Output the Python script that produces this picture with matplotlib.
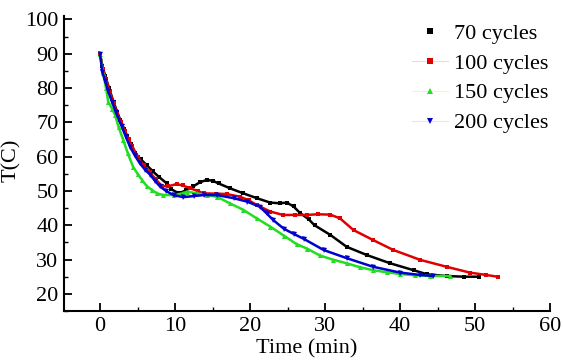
import matplotlib
matplotlib.use("Agg")
import matplotlib.pyplot as plt
from matplotlib.ticker import MultipleLocator

# ---- data ----
t70 = [0, 0.3, 0.7, 1.2, 1.8, 2.3, 2.7, 3.2, 3.6, 4.1, 4.7, 5.4, 6.2, 7.0, 7.8, 8.9, 9.5,
       10.5, 11.5, 12.4, 13.3, 14.2, 15.0, 15.8, 17.3, 19.1, 20.9, 22.7, 24.0, 24.9, 25.8,
       26.7, 27.8, 28.6, 30.7, 32.9, 35.6, 38.7, 41.8, 43.6, 46.2, 48.5, 50.5]
T70 = [90, 86.5, 83.5, 80, 76, 73, 70.7, 68.2, 66, 63.8, 61, 59.3, 57.6, 55.8, 54.2, 52.2, 50.5,
       49.3, 50.2, 51.3, 52.5, 53.2, 53, 52.2, 50.8, 49.3, 47.9, 46.6, 46.4, 46.6, 45.5,
       43.5, 41.8, 40, 37.2, 33.7, 31.3, 28.9, 26.9, 25.7, 25.2, 25, 25]

t100 = [0, 0.4, 0.8, 1.3, 1.8, 2.3, 2.8, 3.3, 3.8, 4.3, 5.0, 5.8, 6.6, 7.4, 8.2, 9.0, 10.2,
        11.0, 12.0, 13.0, 13.8, 15.5, 16.9, 18.7, 19.8, 20.9, 22.7, 24.4, 26, 27.6, 29, 30.7,
        32.0, 33.8, 36.4, 39.1, 42.7, 46.2, 49.3, 51.5, 53.0]
T100 = [90, 85.5, 82.5, 79, 75.5, 72.5, 70, 67.5, 65, 63, 60, 57.5, 55.5, 53.5, 51.5, 51.3, 52,
        51.6, 50.8, 50, 49.3, 49.2, 49.1, 48.3, 47.3, 45.9, 44, 43, 43, 43, 43.2, 43.1,
        42, 38.6, 35.7, 32.8, 29.9, 27.9, 26.2, 25.5, 25.0]

t150 = [0, 0.4, 0.8, 1.1, 1.6, 2.0, 2.5, 3.1, 3.7, 4.4, 5.0, 5.6, 6.2, 6.9, 7.6, 8.4, 9.8,
        11.0, 11.6, 12.9, 14.2, 15.6, 17.3, 19.1, 20.9, 22.7, 24.5, 26.2, 27.6, 29.3, 31,
        32.9, 34.6, 36.4, 38.2, 40, 42, 44, 46.7]
T150 = [90, 84.5, 80, 76, 74, 72.2, 68.5, 64.9, 61, 57.1, 55, 53.2, 51.5, 50.3, 49.3, 48.8, 48.8,
        49.3, 49.8, 49.3, 48.8, 48.3, 46.4, 44.5, 42, 39.6, 37, 34.5, 33.2, 31.2, 30,
        28.9, 27.8, 26.9, 26.3, 25.8, 25.4, 25.2, 25.2]

t200 = [0, 0.3, 0.7, 1.1, 1.6, 2.1, 2.9, 3.4, 4.0, 4.6, 5.3, 6.0, 6.7, 7.3, 8.0, 8.8, 9.8,
        11.1, 12.5, 13.8, 15.6, 17.8, 19.6, 21.3, 22.2, 23.1, 24.5, 25.8, 27.2, 29.8, 32.9,
        36.4, 40, 42.7, 44.4]
T200 = [90, 84.8, 82, 79, 76, 73, 68.8, 66, 62.9, 60.5, 58.1, 56.2, 54.7, 53, 51.3, 50, 48.8,
        48.2, 48.5, 48.8, 48.8, 47.9, 46.9, 45.4, 43.5, 41.5, 39, 37.5, 36, 32.8, 30.4,
        27.9, 26.2, 25.5, 25.2]

labels = ["70 cycles", "100 cycles", "150 cycles", "200 cycles"]
xticks = [0, 10, 20, 30, 40, 50, 60]
yticks = [20, 30, 40, 50, 60, 70, 80, 90, 100]

plt.rcParams['font.family'] = ['Liberation Serif', 'DejaVu Serif']

fig = plt.figure(figsize=(5.63, 3.6), dpi=100)
ax = fig.add_axes([64 / 563, 49 / 360, (550 - 64) / 563, (311 - 16) / 360])

series = [
    (t70, T70, "black", "s", 3.4),
    (t100, T100, "#e00000", "s", 3.0),
    (t150, T150, "#22dd22", "^", 3.6),
    (t200, T200, "#0000cc", "v", 3.6),
]
marker_colors = ["black", "#e00000", "#22dd22", "#0000cc"]
legend_line_colors = ["white", "#f4d8d8", "#eef4e0", "#e6e6f0"]
handles = []
for (t, T, c, m, ms), lab, lc in zip(series, labels, legend_line_colors):
    ax.plot(t, T, color=c, marker=m, markersize=ms, linewidth=1.8,
            markeredgewidth=0)
    h, = ax.plot([], [], color=lc, marker=m, markersize=5, linestyle="-",
                 linewidth=0.8, markerfacecolor=c, markeredgewidth=0, label=lab)
    handles.append(h)

ax.set_xlim(-4.8, 60)
ax.set_ylim(15, 101)
ax.set_xticks(xticks)
ax.set_yticks(yticks)
ax.xaxis.set_minor_locator(MultipleLocator(5))
ax.yaxis.set_minor_locator(MultipleLocator(5))
ax.tick_params(which="major", direction="in", length=6, width=1.3, labelsize=16, pad=4)
ax.tick_params(which="minor", direction="in", length=3, width=1.0)
for s in ("top", "right"):
    ax.spines[s].set_visible(False)
for s in ("left", "bottom"):
    ax.spines[s].set_linewidth(1.5)

ax.set_xlabel("Time (min)", fontsize=16, labelpad=3)
ax.set_ylabel("T(C)", fontsize=16)
ax.yaxis.set_label_coords(-0.088, 0.51)

leg = ax.legend(handles=handles, loc="upper left", bbox_to_anchor=(401 / 563, 1 - 12 / 360),
                bbox_transform=fig.transFigure, frameon=False, fontsize=16,
                handlelength=1.6, handletextpad=0.3, labelspacing=0.42, borderpad=0)

fig.savefig("out.png", dpi=100)
